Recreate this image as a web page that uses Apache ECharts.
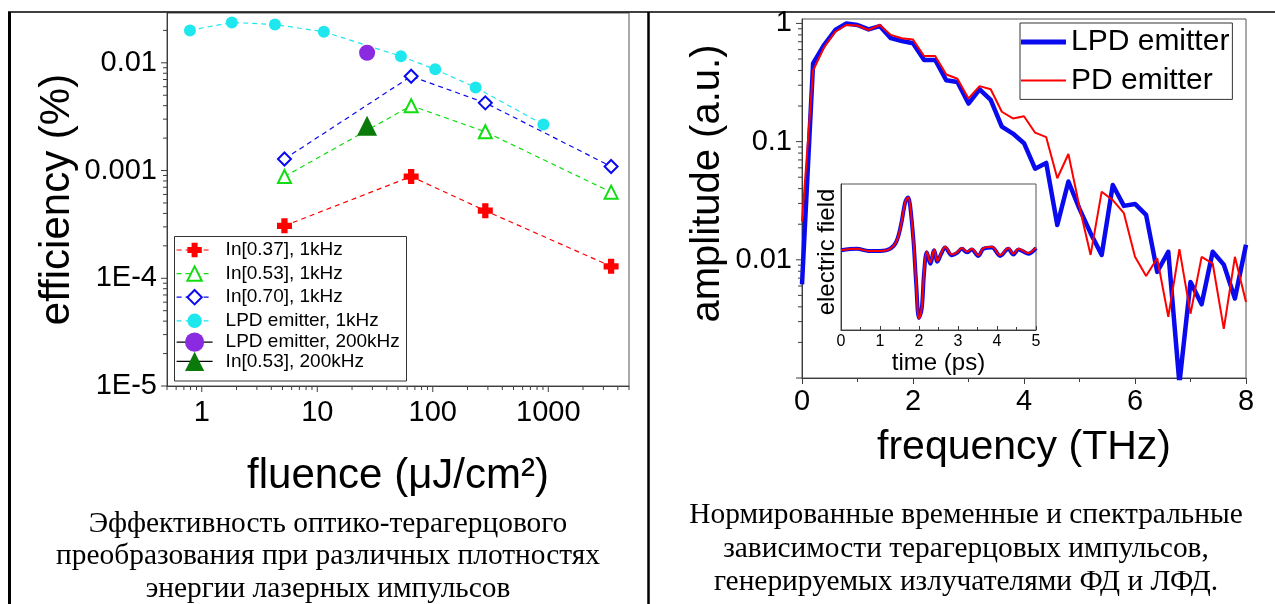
<!DOCTYPE html>
<html><head><meta charset="utf-8">
<script src="https://cdn.jsdelivr.net/npm/echarts@6/dist/echarts.min.js"></script>
<style>html,body{margin:0;padding:0;background:#fff}#c{width:1275px;height:604px}</style>
</head><body><div id="c"></div>
<script>
// ---------- Left chart data (efficiency vs fluence) ----------
const fluence = [5.2, 65, 285, 3500];
const effIn037 = [0.000307, 0.00088, 0.000424, 0.000129];
const effIn053 = [0.00088, 0.0040, 0.00229, 0.00063];
const effIn070 = [0.00128, 0.0075, 0.00425, 0.00109];
const fluenceLPD = [0.79, 1.82, 4.3, 11.4, 53, 105, 235, 908];
const effLPD = [0.020, 0.0237, 0.0227, 0.0194, 0.0115, 0.0087, 0.0059, 0.00267];
const fluence200k = [27];
const effLPD200k = [0.0124];
const effIn053200k = [0.0026];
const leftSeriesNames = ['In[0.37], 1kHz', 'In[0.53], 1kHz', 'In[0.70], 1kHz', 'LPD emitter, 1kHz', 'LPD emitter, 200kHz', 'In[0.53], 200kHz'];
const leftXTickValues = [1, 10, 100, 1000];
const leftXTickLabels = ['1', '10', '100', '1000'];
const leftYTickValues = [1e-5, 1e-4, 1e-3, 1e-2];
const leftYTickLabels = ['1E-5', '1E-4', '0.001', '0.01'];

// ---------- Right chart data (spectra) ----------
const freq = [0,0.2,0.4,0.6,0.8,1.0,1.2,1.4,1.6,1.8,2.0,2.2,2.4,2.6,2.8,3.0,3.2,3.4,3.6,3.8,4.0,4.2,4.4,4.6,4.8,5.0,5.2,5.4,5.6,5.8,6.0,6.2,6.4,6.6,6.8,7.0,7.2,7.4,7.6,7.8,8.0];
const ampLPD = [0.0062,0.46,0.66,0.88,1.0,0.97,0.89,0.95,0.75,0.71,0.68,0.49,0.49,0.33,0.32,0.21,0.277,0.225,0.134,0.117,0.097,0.059,0.066,0.0197,0.046,0.027,0.0168,0.011,0.043,0.0286,0.0297,0.024,0.0079,0.0117,0.0009,0.0065,0.0042,0.0117,0.0091,0.0047,0.0134];
const ampPD = [0.021,0.40,0.63,0.85,0.97,0.96,0.88,0.97,0.80,0.75,0.73,0.53,0.53,0.37,0.34,0.232,0.295,0.277,0.179,0.157,0.164,0.119,0.109,0.049,0.0786,0.028,0.011,0.0377,0.032,0.0248,0.0106,0.0073,0.0103,0.0033,0.0123,0.0035,0.0106,0.0093,0.0026,0.0106,0.0044];
const rightYTickValues = [0.001, 0.01, 0.1, 1];
const rightYTickLabels = ['', '0.01', '0.1', '1'];

// ---------- Inset data (time domain) ----------
const timePs = [0,0.41,0.71,1.0,1.26,1.42,1.54,1.65,1.72,1.77,1.86,1.93,2.0,2.07,2.13,2.2,2.29,2.39,2.47,2.57,2.67,2.84,2.97,3.1,3.23,3.35,3.52,3.65,3.87,4.08,4.29,4.42,4.55,4.68,4.8,5.0];
const fieldLPD = [0.02,0.04,0.01,0.01,0.04,0.14,0.38,0.70,0.76,0.66,0.14,-0.47,-0.93,-0.80,-0.30,-0.01,-0.17,0.02,-0.14,-0.03,0.06,-0.05,-0.02,0.04,-0.01,0.03,-0.06,0.04,0.06,-0.06,0.04,-0.04,0.03,0.0,-0.03,0.05];
const fieldPD = [0.02,0.04,0.01,0.01,0.04,0.14,0.38,0.70,0.76,0.66,0.14,-0.47,-0.94,-0.79,-0.28,0.0,-0.15,0.03,-0.13,-0.02,0.07,-0.04,-0.01,0.05,0.0,0.04,-0.05,0.05,0.07,-0.05,0.05,-0.03,0.04,0.01,-0.02,0.06];

// ---------- Captions ----------
const captionLeft = ['Эффективность оптико-терагерцового', 'преобразования при различных плотностях', 'энергии лазерных импульсов'];
const captionRight = ['Нормированные временные и спектральные', 'зависимости терагерцовых импульсов,', 'генерируемых излучателями ФД и ЛФД.'];

// ---------- helpers ----------
const FONT = '"Liberation Sans", Arial, Helvetica, sans-serif';
const SERIF = '"Liberation Serif", "Times New Roman", serif';
const AX = '#3c3c3c';
const zip = (xs, ys) => xs.map((x, i) => [x, ys[i]]);
function labelFrom(values, labels) {
  return v => {
    for (let i = 0; i < values.length; i++) {
      if (Math.abs(v - values[i]) <= values[i] * 1e-6) return labels[i];
    }
    return '';
  };
}
function decadeMinors(decades, lo, hi) {
  const out = [];
  decades.forEach(d => { for (let k = 2; k <= 9; k++) { const v = d * k; if (v >= lo && v <= hi) out.push(v); } });
  return out;
}
function tickSeries(xIdx, yIdx, dir, ref, majors, minors) {
  const data = [];
  majors.forEach(v => data.push(dir === 'y' ? [ref, v, 6] : [v, ref, 6]));
  minors.forEach(v => data.push(dir === 'y' ? [ref, v, 4] : [v, ref, 4]));
  return {
    type: 'custom', xAxisIndex: xIdx, yAxisIndex: yIdx, silent: true, z: 6, clip: false,
    data: data,
    renderItem: (params, api) => {
      const p = api.coord([api.value(0), api.value(1)]);
      const len = api.value(2);
      const shape = dir === 'y'
        ? { x1: p[0] - len, y1: p[1], x2: p[0], y2: p[1] }
        : { x1: p[0], y1: p[1], x2: p[0], y2: p[1] + len };
      return { type: 'line', shape: shape, style: { stroke: AX, lineWidth: 1 } };
    }
  };
}
function captionText(lines, cx, ys) {
  return lines.map((t, i) => ({
    type: 'text', z: 5,
    style: { text: t, x: cx, y: ys[i], align: 'center', verticalAlign: 'middle', fontSize: 29.4, fontFamily: SERIF, fill: '#000' }
  }));
}
const CROSS = 'path://M3.5,0H8.5V3.5H12V8.5H8.5V12H3.5V8.5H0V3.5H3.5Z';
const C_RED = '#ff0000', C_GREEN = '#12dd12', C_BLUE = '#0a0aee', C_CYAN = '#1ee8ee', C_PURPLE = '#8a2be2', C_DKGREEN = '#0a7a0a';

const chart = echarts.init(document.getElementById('c'), null, { renderer: 'canvas' });

const dashed = c => ({ color: c, width: 1.2, type: [5, 4] });

const option = {
  animation: false,
  backgroundColor: '#fff',
  textStyle: { fontFamily: FONT },
  grid: [
    { left: 167, top: 13, width: 462, height: 373, show: true, borderColor: '#555', borderWidth: 1, backgroundColor: 'transparent', outerBoundsMode: 'none' },
    { left: 802, top: 19, width: 444, height: 359, show: true, borderColor: '#555', borderWidth: 1, backgroundColor: 'transparent', outerBoundsMode: 'none' },
    { left: 841, top: 184, width: 195, height: 146, show: true, borderColor: '#555', borderWidth: 1, backgroundColor: '#fff', outerBoundsMode: 'none' }
  ],
  xAxis: [
    { type: 'log', gridIndex: 0, min: 0.5, max: 5000, logBase: 10,
      axisLine: { show: true, onZero: false, lineStyle: { color: AX } }, axisTick: { show: false }, minorTick: { show: false }, splitLine: { show: false },
      axisLabel: { fontSize: 29, color: '#000', margin: 12, formatter: labelFrom(leftXTickValues, leftXTickLabels) },
      name: 'fluence (μJ/cm²)', nameLocation: 'middle', nameGap: 90,
      nameTextStyle: { fontSize: 42, color: '#000', verticalAlign: 'middle' } },
    { type: 'value', gridIndex: 1, min: 0, max: 8, interval: 2,
      axisLine: { show: true, onZero: false, lineStyle: { color: AX } },
      axisTick: { show: true, length: 6, lineStyle: { color: AX } },
      minorTick: { show: true, splitNumber: 2, length: 4, lineStyle: { color: AX } },
      splitLine: { show: false },
      axisLabel: { fontSize: 29, color: '#000', margin: 9 },
      name: 'frequency (THz)', nameLocation: 'middle', nameGap: 70,
      nameTextStyle: { fontSize: 41, color: '#000', verticalAlign: 'middle' } },
    { type: 'value', gridIndex: 2, min: 0, max: 5, interval: 1,
      axisLine: { show: true, onZero: false, lineStyle: { color: AX } },
      axisTick: { show: true, inside: true, length: 4, lineStyle: { color: AX } },
      minorTick: { show: true, splitNumber: 2, length: 3, lineStyle: { color: AX } },
      splitLine: { show: false },
      axisLabel: { fontSize: 16, color: '#000', margin: 4 },
      name: 'time (ps)', nameLocation: 'middle', nameGap: 31,
      nameTextStyle: { fontSize: 24, color: '#000', verticalAlign: 'middle' } }
  ],
  yAxis: [
    { type: 'log', gridIndex: 0, min: 1e-5, max: 0.029, logBase: 10,
      axisLine: { show: true, onZero: false, lineStyle: { color: AX } }, axisTick: { show: false }, minorTick: { show: false }, splitLine: { show: false },
      axisLabel: { fontSize: 29, color: '#000', margin: 10, formatter: labelFrom(leftYTickValues, leftYTickLabels) },
      name: 'efficiency (%)', nameLocation: 'middle', nameGap: 110,
      nameTextStyle: { fontSize: 42, color: '#000', verticalAlign: 'middle', align: 'center' } },
    { type: 'log', gridIndex: 1, min: 0.001, max: 1.09, logBase: 10,
      axisLine: { show: true, onZero: false, lineStyle: { color: AX } }, axisTick: { show: false }, minorTick: { show: false }, splitLine: { show: false },
      axisLabel: { fontSize: 29, color: '#000', margin: 10, formatter: labelFrom(rightYTickValues, rightYTickLabels) },
      name: 'amplitude (a.u.)', nameLocation: 'middle', nameGap: 94,
      nameTextStyle: { fontSize: 40, color: '#000', verticalAlign: 'middle', align: 'center', padding: [0, 0, 0, 30] } },
    { type: 'value', gridIndex: 2, min: -1.1, max: 0.95,
      axisLine: { show: true, onZero: false, lineStyle: { color: AX } }, axisTick: { show: false }, splitLine: { show: false },
      axisLabel: { show: false },
      name: 'electric field', nameLocation: 'middle', nameGap: 14,
      nameTextStyle: { fontSize: 24, color: '#000', verticalAlign: 'middle', align: 'center', padding: [0, 0, 0, 10] } }
  ],
  legend: [
    { left: 176, top: 240.5, orient: 'vertical', padding: 0, itemWidth: 36, itemHeight: 18, itemGap: 4.6, selectedMode: false,
      textStyle: { fontSize: 19, color: '#000', fontFamily: FONT, padding: [0, 0, 0, 8] },
      lineStyle: { width: 1.2 },
      data: [
        { name: leftSeriesNames[0], itemStyle: { color: C_RED, borderWidth: 0 } },
        { name: leftSeriesNames[1], itemStyle: { color: '#fff', borderColor: C_GREEN, borderWidth: 2 } },
        { name: leftSeriesNames[2], itemStyle: { color: '#fff', borderColor: C_BLUE, borderWidth: 2 } },
        { name: leftSeriesNames[3], itemStyle: { color: C_CYAN, borderWidth: 0 } }
      ] },
    { left: 176, top: 332.5, orient: 'vertical', padding: 0, itemWidth: 36, itemHeight: 24, itemGap: 0, selectedMode: false,
      textStyle: { fontSize: 19, color: '#000', fontFamily: FONT, padding: [0, 0, 0, 8] },
      lineStyle: { width: 1.2 },
      data: [
        { name: leftSeriesNames[4], itemStyle: { color: C_PURPLE, borderWidth: 0 } },
        { name: leftSeriesNames[5], itemStyle: { color: C_DKGREEN, borderWidth: 0 } }
      ] },
    { left: 1020, top: 23, orient: 'vertical', padding: [4, 3, 4, 1], itemWidth: 45, itemHeight: 20, itemGap: 8.4, selectedMode: false,
      borderColor: '#333', borderWidth: 1, backgroundColor: '#fff',
      textStyle: { fontSize: 30, color: '#000', fontFamily: FONT },
      data: [
        { name: 'LPD emitter', icon: 'path://M0,0H45V5H0Z', itemStyle: { color: C_BLUE, borderWidth: 0 } },
        { name: 'PD emitter', icon: 'path://M0,0H45V2H0Z', itemStyle: { color: C_RED, borderWidth: 0 } }
      ] }
  ],
  series: [
    { name: leftSeriesNames[0], type: 'line', xAxisIndex: 0, yAxisIndex: 0, data: zip(fluence, effIn037),
      symbol: CROSS, symbolSize: 15, itemStyle: { color: C_RED }, lineStyle: dashed(C_RED), z: 3 },
    { name: leftSeriesNames[1], type: 'line', xAxisIndex: 0, yAxisIndex: 0, data: zip(fluence, effIn053),
      symbol: 'triangle', symbolSize: 13, itemStyle: { color: '#fff', borderColor: C_GREEN, borderWidth: 2 }, lineStyle: dashed(C_GREEN), z: 3 },
    { name: leftSeriesNames[2], type: 'line', xAxisIndex: 0, yAxisIndex: 0, data: zip(fluence, effIn070),
      symbol: 'diamond', symbolSize: 13, itemStyle: { color: '#fff', borderColor: C_BLUE, borderWidth: 2 }, lineStyle: dashed(C_BLUE), z: 3 },
    { name: leftSeriesNames[3], type: 'line', xAxisIndex: 0, yAxisIndex: 0, data: zip(fluenceLPD, effLPD),
      symbol: 'circle', symbolSize: 12, itemStyle: { color: C_CYAN }, lineStyle: dashed(C_CYAN), z: 3 },
    { name: leftSeriesNames[4], type: 'line', xAxisIndex: 0, yAxisIndex: 0, data: zip(fluence200k, effLPD200k),
      symbol: 'circle', symbolSize: 16, itemStyle: { color: C_PURPLE }, lineStyle: { color: '#000', width: 1.2 }, z: 4 },
    { name: leftSeriesNames[5], type: 'line', xAxisIndex: 0, yAxisIndex: 0, data: zip(fluence200k, effIn053200k),
      symbol: 'triangle', symbolSize: 20, itemStyle: { color: C_DKGREEN }, lineStyle: { color: '#000', width: 1.2 }, z: 4 },

    { name: 'LPD emitter', type: 'line', xAxisIndex: 1, yAxisIndex: 1, data: zip(freq, ampLPD),
      symbol: 'none', itemStyle: { color: C_BLUE }, lineStyle: { color: C_BLUE, width: 4.5, join: 'round' }, z: 2 },
    { name: 'PD emitter', type: 'line', xAxisIndex: 1, yAxisIndex: 1, data: zip(freq, ampPD),
      symbol: 'none', itemStyle: { color: C_RED }, lineStyle: { color: C_RED, width: 2 }, z: 3 },

    { name: 'LPD emitter', type: 'line', xAxisIndex: 2, yAxisIndex: 2, data: zip(timePs, fieldLPD), smooth: 0.35,
      symbol: 'none', itemStyle: { color: C_BLUE }, lineStyle: { color: C_BLUE, width: 4 }, z: 3 },
    { name: 'PD emitter', type: 'line', xAxisIndex: 2, yAxisIndex: 2, data: zip(timePs, fieldPD), smooth: 0.35,
      symbol: 'none', itemStyle: { color: C_RED }, lineStyle: { color: C_RED, width: 2 }, z: 4 },

    tickSeries(0, 0, 'x', 1e-5, leftXTickValues, decadeMinors([0.1, 1, 10, 100, 1000], 0.5, 5000)),
    tickSeries(0, 0, 'y', 0.5, leftYTickValues, decadeMinors([1e-5, 1e-4, 1e-3, 1e-2], 1e-5, 0.029)),
    tickSeries(1, 1, 'y', 0, rightYTickValues, decadeMinors([1e-3, 1e-2, 1e-1], 0.001, 1.09))
  ],
  graphic: [
    { type: 'line', z: 1, shape: { x1: 8, y1: 12, x2: 1275, y2: 12 }, style: { stroke: '#000', lineWidth: 1.5 } },
    { type: 'line', z: 1, shape: { x1: 9.5, y1: 12, x2: 9.5, y2: 604 }, style: { stroke: '#000', lineWidth: 3 } },
    { type: 'line', z: 1, shape: { x1: 648.5, y1: 12, x2: 648.5, y2: 604 }, style: { stroke: '#000', lineWidth: 2.5 } },
    { type: 'rect', z: 3, shape: { x: 174.5, y: 236.5, width: 232, height: 144.5 }, style: { fill: '#fff', stroke: '#333', lineWidth: 1 } }
  ].concat(captionText(captionLeft, 328, [524, 556.5, 589]))
   .concat(captionText(captionRight, 966, [515.5, 549, 582.5]))
};
chart.setOption(option);
</script>
</body></html>
